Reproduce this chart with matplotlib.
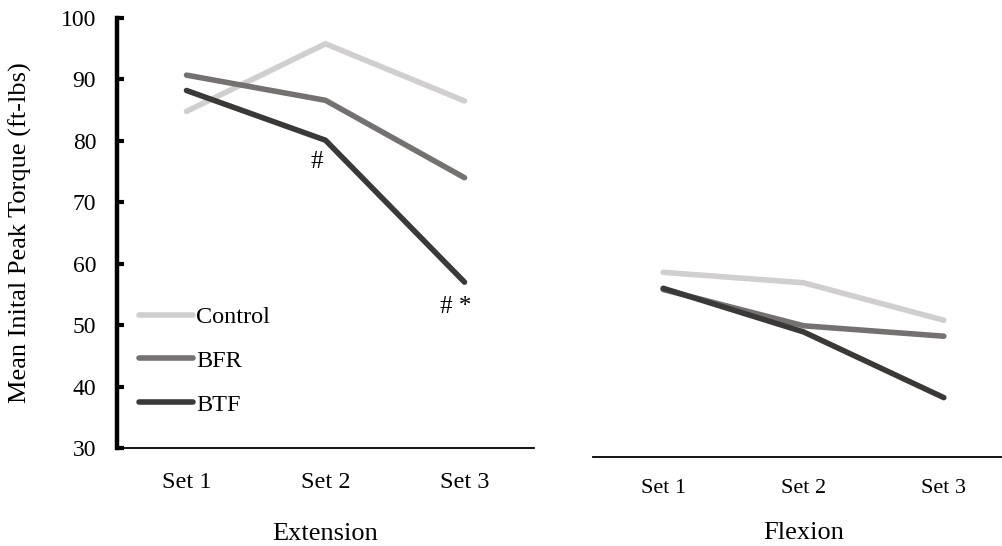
import matplotlib.pyplot as plt

plt.rcParams['font.family'] = ['Liberation Serif', 'DejaVu Serif']

sets = ['Set 1', 'Set 2', 'Set 3']
groups = ['Control', 'BFR', 'BTF']
colors = ['#d0cece', '#767171', '#3b3838']

# mean initial peak torque (ft-lbs)
extension = {
    'Control': [84.8, 95.8, 86.5],
    'BFR': [90.7, 86.6, 74.0],
    'BTF': [88.2, 80.1, 57.0],
}
flexion = {
    'Control': [58.6, 56.9, 50.8],
    'BFR': [55.8, 49.9, 48.2],
    'BTF': [56.0, 48.9, 38.2],
}

fig = plt.figure(figsize=(10.03, 5.46), dpi=100)

# left panel - extension
ax1 = fig.add_axes([117 / 1003, 98 / 546, 417 / 1003, 430 / 546])
for g, c in zip(groups, colors):
    ax1.plot(range(3), extension[g], color=c, lw=4, solid_capstyle='round', label=g)
ax1.set_xlim(-0.5, 2.5)
ax1.set_ylim(30, 100)
ax1.set_yticks(range(30, 101, 10))
ax1.set_xticks(range(3))
ax1.set_xticklabels(sets)
ax1.spines['top'].set_visible(False)
ax1.spines['right'].set_visible(False)
ax1.spines['left'].set_linewidth(3.2)
ax1.spines['bottom'].set_linewidth(1.3)
ax1.tick_params(axis='y', direction='in', length=5, width=3, labelsize=17, pad=15)
ax1.tick_params(axis='x', length=0, labelsize=17.5, pad=17)
ax1.set_ylabel('Mean Inital Peak Torque (ft-lbs)', fontsize=19)
ax1.yaxis.set_label_coords(-0.205, 0.5)
ax1.set_xlabel('Extension', fontsize=19, labelpad=22)

ax1.text(0.94, extension['BTF'][1] - 1.8, '#', ha='center', va='top', fontsize=18)
ax1.text(1.94, extension['BTF'][2] - 2.3, '# *', ha='center', va='top', fontsize=18)

ax1.legend(loc='upper left', bbox_to_anchor=(0.053, 0.33), frameon=False, fontsize=17.5,
           handlelength=2.2, handletextpad=0.15, labelspacing=0.9,
           borderpad=0, borderaxespad=0)

# right panel - flexion
ax2 = fig.add_axes([593 / 1003, 89 / 546, 421 / 1003, 439 / 546])
for g, c in zip(groups, colors):
    ax2.plot(range(3), flexion[g], color=c, lw=4, solid_capstyle='round')
ax2.set_xlim(-0.5, 2.5)
ax2.set_ylim(30 - 9 / 6.143, 100)
ax2.set_xticks(range(3))
ax2.set_xticklabels(sets)
ax2.set_yticks([])
for s in ['top', 'right', 'left']:
    ax2.spines[s].set_visible(False)
ax2.spines['bottom'].set_linewidth(1.3)
ax2.tick_params(axis='x', length=0, labelsize=16, pad=16)
ax2.set_xlabel('Flexion', fontsize=19, labelpad=17)

fig.savefig('out.png', dpi=100)
